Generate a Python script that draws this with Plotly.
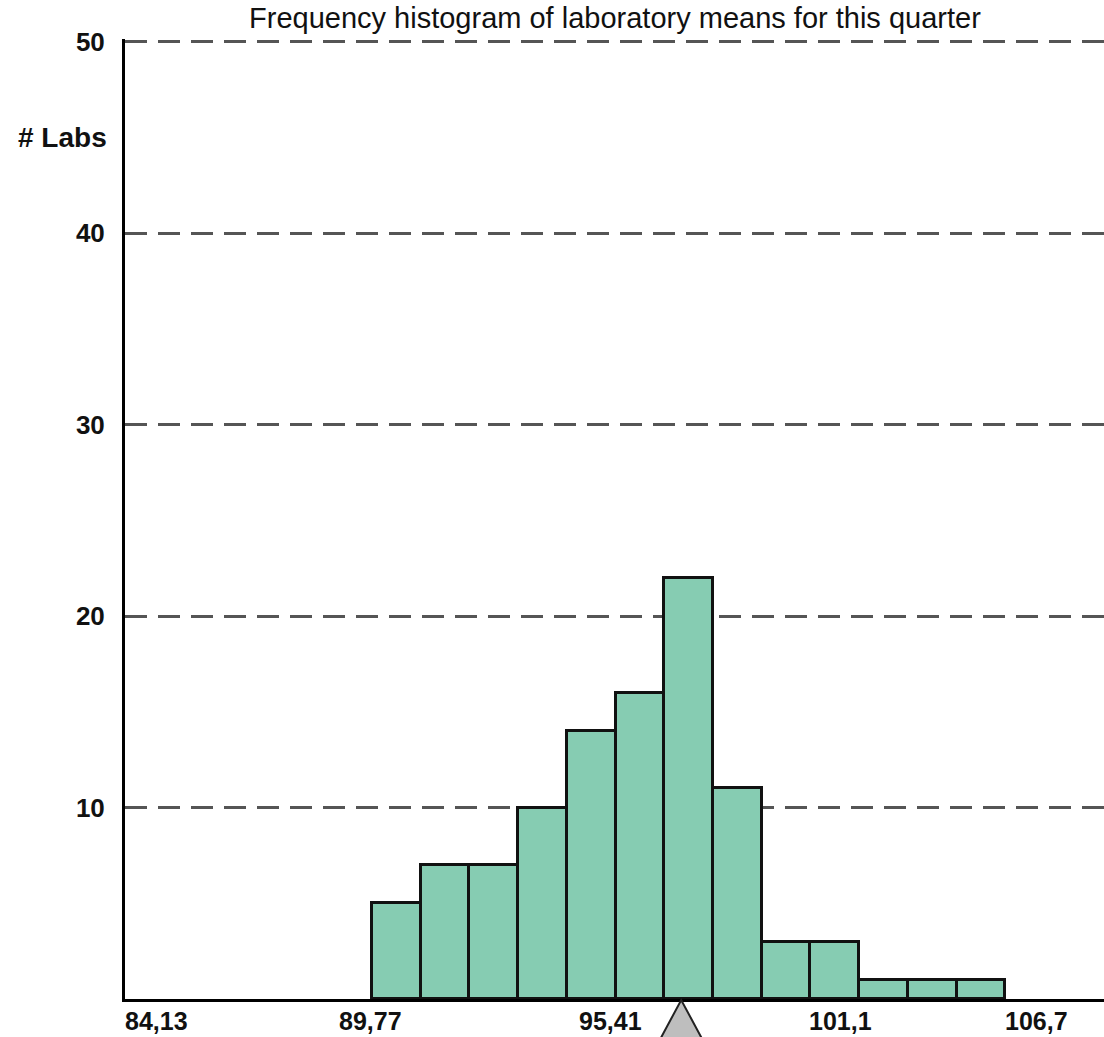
import plotly.graph_objects as go

# ---- data ----
bin_left_edges = [89.77, 90.898, 92.026, 93.154, 94.282, 95.41, 96.538, 97.666,
                  98.794, 99.922, 101.05, 102.178, 103.306]
bin_width = 1.128
lab_counts = [5, 7, 7, 10, 14, 16, 22, 11, 3, 3, 1, 1, 1]
mean_value = 96.93
x_range = [84.05, 106.72]
x_tick_values = [84.13, 89.77, 95.41, 101.1, 106.7]
x_tick_labels = ["84,13", "89,77", "95,41", "101,1", "106,7"]
y_tick_values = [10, 20, 30, 40, 50]
title_text = "Frequency histogram of laboratory means for this quarter"
y_label = "# Labs"

FONT = "Liberation Sans, Arial, sans-serif"
TXT = "#111111"

fig = go.Figure()
fig.add_trace(go.Bar(
    x=bin_left_edges,
    y=lab_counts,
    width=[bin_width] * len(bin_left_edges),
    offset=0,
    marker=dict(color="#86CCB2", line=dict(color="#111111", width=3)),
    hoverinfo="skip",
))

fig.update_layout(
    width=1104, height=1037,
    margin=dict(l=125, r=0, t=39, b=38),
    paper_bgcolor="white", plot_bgcolor="white",
    showlegend=False,
    bargap=0,
    font=dict(family=FONT, size=22, color=TXT),
    title=dict(text=title_text, x=0.557, xanchor="center", y=0.983, yanchor="middle",
               font=dict(family=FONT, size=29, color=TXT)),
)

fig.update_xaxes(
    range=x_range,
    showgrid=False, zeroline=False,
    showline=True, linecolor="black", linewidth=3,
    showticklabels=False, ticks="",
)
fig.update_yaxes(
    range=[0, 50.15],
    tickvals=y_tick_values,
    ticktext=[str(v) for v in y_tick_values],
    tickfont=dict(family=FONT, size=26, color=TXT, weight="bold"),
    ticks="", ticklabelstandoff=12,
    showgrid=True, gridcolor="#555555", gridwidth=3, griddash="22px,11px",
    zeroline=False,
    showline=True, linecolor="black", linewidth=3,
)

# x tick labels as annotations (edge labels kept inside the figure)
anchors = ["left", "center", "center", "center", "right"]
shifts = [-5, -2, -5, -21, -33]
for v, t, a, s in zip(x_tick_values, x_tick_labels, anchors, shifts):
    fig.add_annotation(x=v, y=0, xref="x", yref="y", text=t, showarrow=False,
                       xanchor=a, yanchor="top", yshift=-6, xshift=s,
                       font=dict(family=FONT, size=25, color=TXT, weight="bold"))

# y-axis label
fig.add_annotation(x=0, y=1, xref="paper", yref="paper", text=y_label, showarrow=False,
                   xanchor="right", yanchor="middle", xshift=-16, yshift=-98,
                   font=dict(family=FONT, size=28, color=TXT, weight="bold"))

# mean marker triangle below the axis
fig.add_shape(type="path", xref="x", yref="paper",
              xsizemode="pixel", ysizemode="pixel",
              xanchor=mean_value, yanchor=0,
              path="M -22,-42 L 0,-1 L 22,-42 Z",
              fillcolor="#BEBEBE", line=dict(color="#222222", width=2),
              layer="above")

fig.write_html("out.html", config={"displayModeBar": False},
               post_script="document.body.style.margin='0';")
